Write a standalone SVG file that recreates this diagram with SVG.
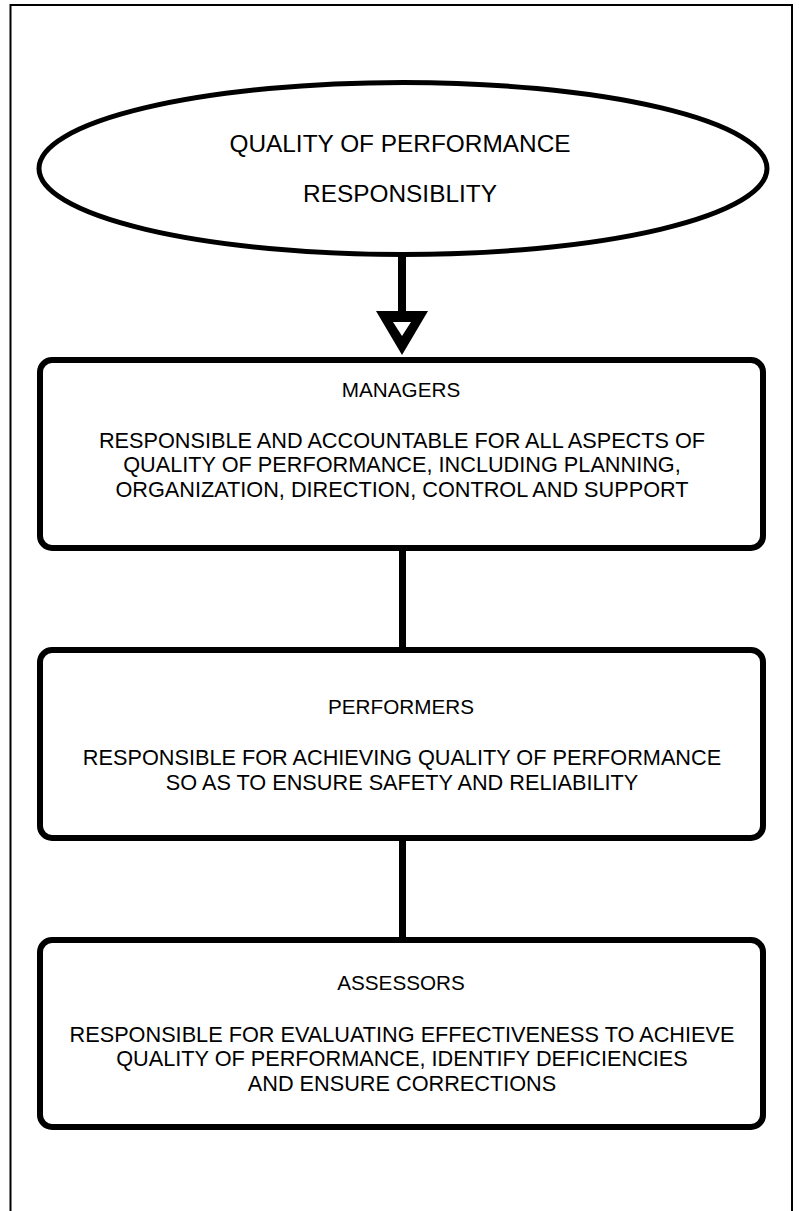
<svg xmlns="http://www.w3.org/2000/svg" width="799" height="1211" viewBox="0 0 799 1211">
<style>
.frame{fill:none;stroke:#000;stroke-width:2}
.box{fill:#fff;stroke:#000;stroke-width:6}
.ell{fill:#fff;stroke:#000;stroke-width:5}
.conn{stroke:#000;stroke-width:7;fill:none}
text{font-family:"Liberation Sans",Arial,sans-serif;fill:#000;text-anchor:middle}
.t{font-size:24.4px}
.h{font-size:20.7px}
.b{font-size:21.7px}
</style>
<rect width="799" height="1211" fill="#fff"/>
<path class="frame" d="M10.5,1211 V5 H792 V1211"/>
<g id="connectors">
<line class="conn" x1="402" y1="254" x2="402" y2="316" style="stroke-width:8"/>
<path d="M376,311 H428 L402,355 Z M393,322 L402,336 L411,322 Z" fill="#000" fill-rule="evenodd"/>
<line class="conn" x1="402.5" y1="548" x2="402.5" y2="650"/>
<line class="conn" x1="402.5" y1="838" x2="402.5" y2="940"/>
</g>
<g id="node-quality">
<ellipse class="ell" cx="403" cy="168.5" rx="364" ry="86"/>
<text class="t" x="400" y="152">QUALITY OF PERFORMANCE</text>
<text class="t" x="400" y="202">RESPONSIBLITY</text>
</g>
<g id="node-managers">
<rect class="box" x="40" y="360" width="723" height="188" rx="12"/>
<text class="h" x="401" y="397">MANAGERS</text>
<text class="b" x="402" y="448">RESPONSIBLE AND ACCOUNTABLE FOR ALL ASPECTS OF</text>
<text class="b" x="402" y="472">QUALITY OF PERFORMANCE, INCLUDING PLANNING,</text>
<text class="b" x="402" y="497">ORGANIZATION, DIRECTION, CONTROL AND SUPPORT</text>
</g>
<g id="node-performers">
<rect class="box" x="40" y="650" width="723" height="188" rx="12"/>
<text class="h" x="401" y="714">PERFORMERS</text>
<text class="b" x="402" y="765">RESPONSIBLE FOR ACHIEVING QUALITY OF PERFORMANCE</text>
<text class="b" x="402" y="790">SO AS TO ENSURE SAFETY AND RELIABILITY</text>
</g>
<g id="node-assessors">
<rect class="box" x="40" y="940" width="723" height="187" rx="12"/>
<text class="h" x="401" y="990">ASSESSORS</text>
<text class="b" x="402" y="1042">RESPONSIBLE FOR EVALUATING EFFECTIVENESS TO ACHIEVE</text>
<text class="b" x="402" y="1066">QUALITY OF PERFORMANCE, IDENTIFY DEFICIENCIES</text>
<text class="b" x="402" y="1091">AND ENSURE CORRECTIONS</text>
</g>
</svg>
